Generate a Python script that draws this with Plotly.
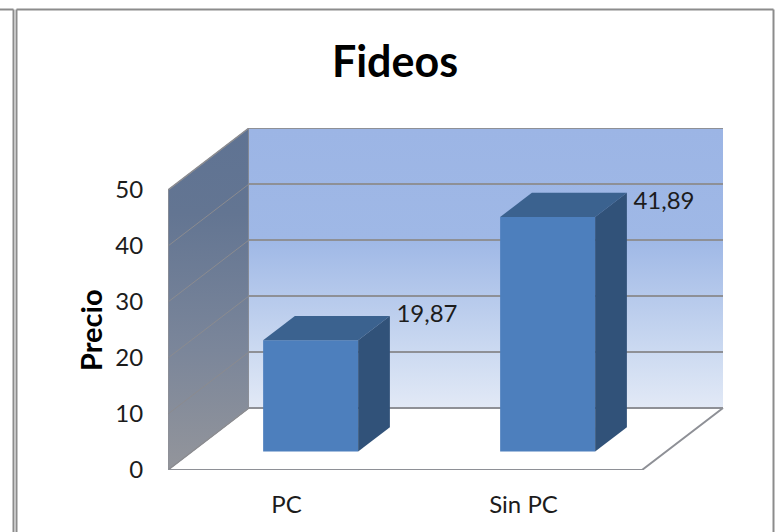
import plotly.graph_objects as go

categories = ["PC", "Sin PC"]
values = [19.87, 41.89]
value_labels = ["19,87", "41,89"]
y_ticks = [0, 10, 20, 30, 40, 50]
title_text = "Fideos"
y_title = "Precio"

# plot rectangle in pixels
W, H = 780, 532
L, R, T, B = 168, 724, 128, 470
PX_PER_CAT = 237
PX_PER_VAL = 5.6
X_RANGE = [-0.5, -0.5 + (R - L) / PX_PER_CAT]
Y_RANGE = [0, (B - T) / PX_PER_VAL]

# oblique depth projection: z=0 front plane, z=1 back wall
DX = 81 / PX_PER_CAT
DY = 62 / PX_PER_VAL
Z_FRONT, Z_BACK = 0.298, 0.69
BAR_W = 95 / PX_PER_CAT
YMAX = y_ticks[-1]
XL, XR = -0.5, 1.5
LABEL_DROP_PX = [0, 10]  # how far each value label sits below its bar's back corner


def pr(x, y, z):
    return x + z * DX, y + z * DY


def poly(points):
    pts = [pr(*p) for p in points] + [pr(*points[0])]
    return [p[0] for p in pts], [p[1] for p in pts]


fig = go.Figure()
LINE = "#8e9096"

# left wall
x, y = poly([(XL, 0, 0), (XL, 0, 1), (XL, YMAX, 1), (XL, YMAX, 0)])
fig.add_trace(go.Scatter(x=x, y=y, mode="lines", fill="toself", line=dict(color=LINE, width=1.5),
                         fillgradient=dict(type="vertical", colorscale=[[0, "#93959b"], [0.35, "#7b869a"], [0.75, "#637592"], [1, "#5f7393"]]),
                         hoverinfo="skip", showlegend=False))
# back wall
x, y = poly([(XL, 0, 1), (XR, 0, 1), (XR, YMAX, 1), (XL, YMAX, 1)])
fig.add_trace(go.Scatter(x=x, y=y, mode="lines", fill="toself", line=dict(width=0, color="rgba(0,0,0,0)"),
                         fillgradient=dict(type="vertical", colorscale=[[0, "#e2e9f6"], [0.2, "#ccdaf1"], [0.6, "#9fb8e6"], [1, "#9cb5e5"]]),
                         hoverinfo="skip", showlegend=False))
# grid lines: along the left wall and the back wall
sx, sy, gx, gy = [], [], [], []
for t in y_ticks:
    a, b, c = pr(XL, t, 0), pr(XL, t, 1), pr(XR, t, 1)
    sx += [a[0], b[0], None]
    sy += [a[1], b[1], None]
    gx += [b[0], c[0], None]
    gy += [b[1], c[1], None]
fig.add_trace(go.Scatter(x=sx, y=sy, mode="lines", line=dict(color="#8b8b8f", width=1),
                         hoverinfo="skip", showlegend=False))
fig.add_trace(go.Scatter(x=gx, y=gy, mode="lines", line=dict(color=LINE, width=1.8),
                         hoverinfo="skip", showlegend=False))
# floor outline (front and right)
a, b, c = pr(XL, 0, 0), pr(XR, 0, 0), pr(XR, 0, 1)
fig.add_trace(go.Scatter(x=[a[0], b[0], c[0]], y=[a[1], b[1], c[1]], mode="lines",
                         line=dict(color=LINE, width=2), hoverinfo="skip", showlegend=False))

# bars: front face is a real bar on an overlay axis, so it sits above the walls
bar_x = [i + Z_FRONT * DX for i in range(len(categories))]
base = Z_FRONT * DY
fig.add_trace(go.Bar(x=bar_x, y=values, base=[base] * len(values), width=BAR_W,
                     marker=dict(color="#4d7fbd", line=dict(width=0)),
                     xaxis="x2", yaxis="y2", hoverinfo="skip", showlegend=False))
for i, v in enumerate(values):
    x0, x1 = i - BAR_W / 2, i + BAR_W / 2
    # top
    x, y = poly([(x0, v, Z_FRONT), (x1, v, Z_FRONT), (x1, v, Z_BACK), (x0, v, Z_BACK)])
    fig.add_trace(go.Scatter(x=x, y=y, mode="lines", fill="toself", fillcolor="#3b628f", line=dict(width=0),
                             xaxis="x2", yaxis="y2", hoverinfo="skip", showlegend=False))
    # side
    x, y = poly([(x1, 0, Z_FRONT), (x1, 0, Z_BACK), (x1, v, Z_BACK), (x1, v, Z_FRONT)])
    fig.add_trace(go.Scatter(x=x, y=y, mode="lines", fill="toself", fillcolor="#315279", line=dict(width=0),
                             xaxis="x2", yaxis="y2", hoverinfo="skip", showlegend=False))

# value labels
lx, ly = [], []
for i, v in enumerate(values):
    p = pr(i + BAR_W / 2, v, Z_BACK)
    lx.append(p[0] + 6.5 / PX_PER_CAT)
    ly.append(p[1] - LABEL_DROP_PX[i] / PX_PER_VAL)
fig.add_trace(go.Scatter(x=lx, y=ly, mode="text", text=value_labels, textposition="middle right",
                         textfont=dict(family="Lato", size=24, color="#1c1c1c"),
                         xaxis="x2", yaxis="y2", hoverinfo="skip", showlegend=False))


def fx(px):
    return (px - L) / (R - L)


def fy(py):
    return (B - py) / (B - T)


frame = [(0, 9.5, 13.5, 9.5), (13.5, 9.5, 13.5, H), (16.5, 9.5, 16.5, H),
         (16.5, 9.5, 773.5, 9.5), (773.5, 9.5, 773.5, H)]
shapes = [dict(type="line", xref="paper", yref="paper", x0=fx(a), y0=fy(b), x1=fx(c), y1=fy(d),
               line=dict(color="#8c8c8c", width=2)) for a, b, c, d in frame]

font = dict(family="Lato", size=24, color="#1c1c1c")
fig.update_layout(
    width=W, height=H, autosize=False,
    margin=dict(l=L, r=W - R, t=T, b=H - B, pad=0),
    paper_bgcolor="white", plot_bgcolor="white",
    showlegend=False, shapes=shapes,
    title=dict(text=f"<b>{title_text}</b>", x=395 / W, xanchor="center", y=1 - 62 / H, yanchor="middle",
               font=dict(family="Lato", size=43, color="#000000")),
    annotations=[dict(text=f"<b>{y_title}</b>", xref="paper", yref="paper", x=fx(90), y=fy(330),
                      xanchor="center", yanchor="middle", textangle=-90, showarrow=False,
                      font=dict(family="Lato", size=29, color="#000000"))],
    xaxis=dict(range=X_RANGE, tickmode="array", tickvals=list(range(len(categories))), ticktext=categories,
               showgrid=False, zeroline=False, showline=False, ticks="outside", ticklen=13,
               tickcolor="rgba(0,0,0,0)", tickfont=font),
    yaxis=dict(range=Y_RANGE, tickmode="array", tickvals=y_ticks, ticktext=[str(t) for t in y_ticks],
               showgrid=False, zeroline=False, showline=False, ticks="outside", ticklen=19,
               tickcolor="rgba(0,0,0,0)", tickfont=font),
    xaxis2=dict(range=X_RANGE, overlaying="x", visible=False),
    yaxis2=dict(range=Y_RANGE, overlaying="y", visible=False),
)
fig.write_html("out.html", config={"displayModeBar": False},
               post_script="document.body.style.margin='0';")
